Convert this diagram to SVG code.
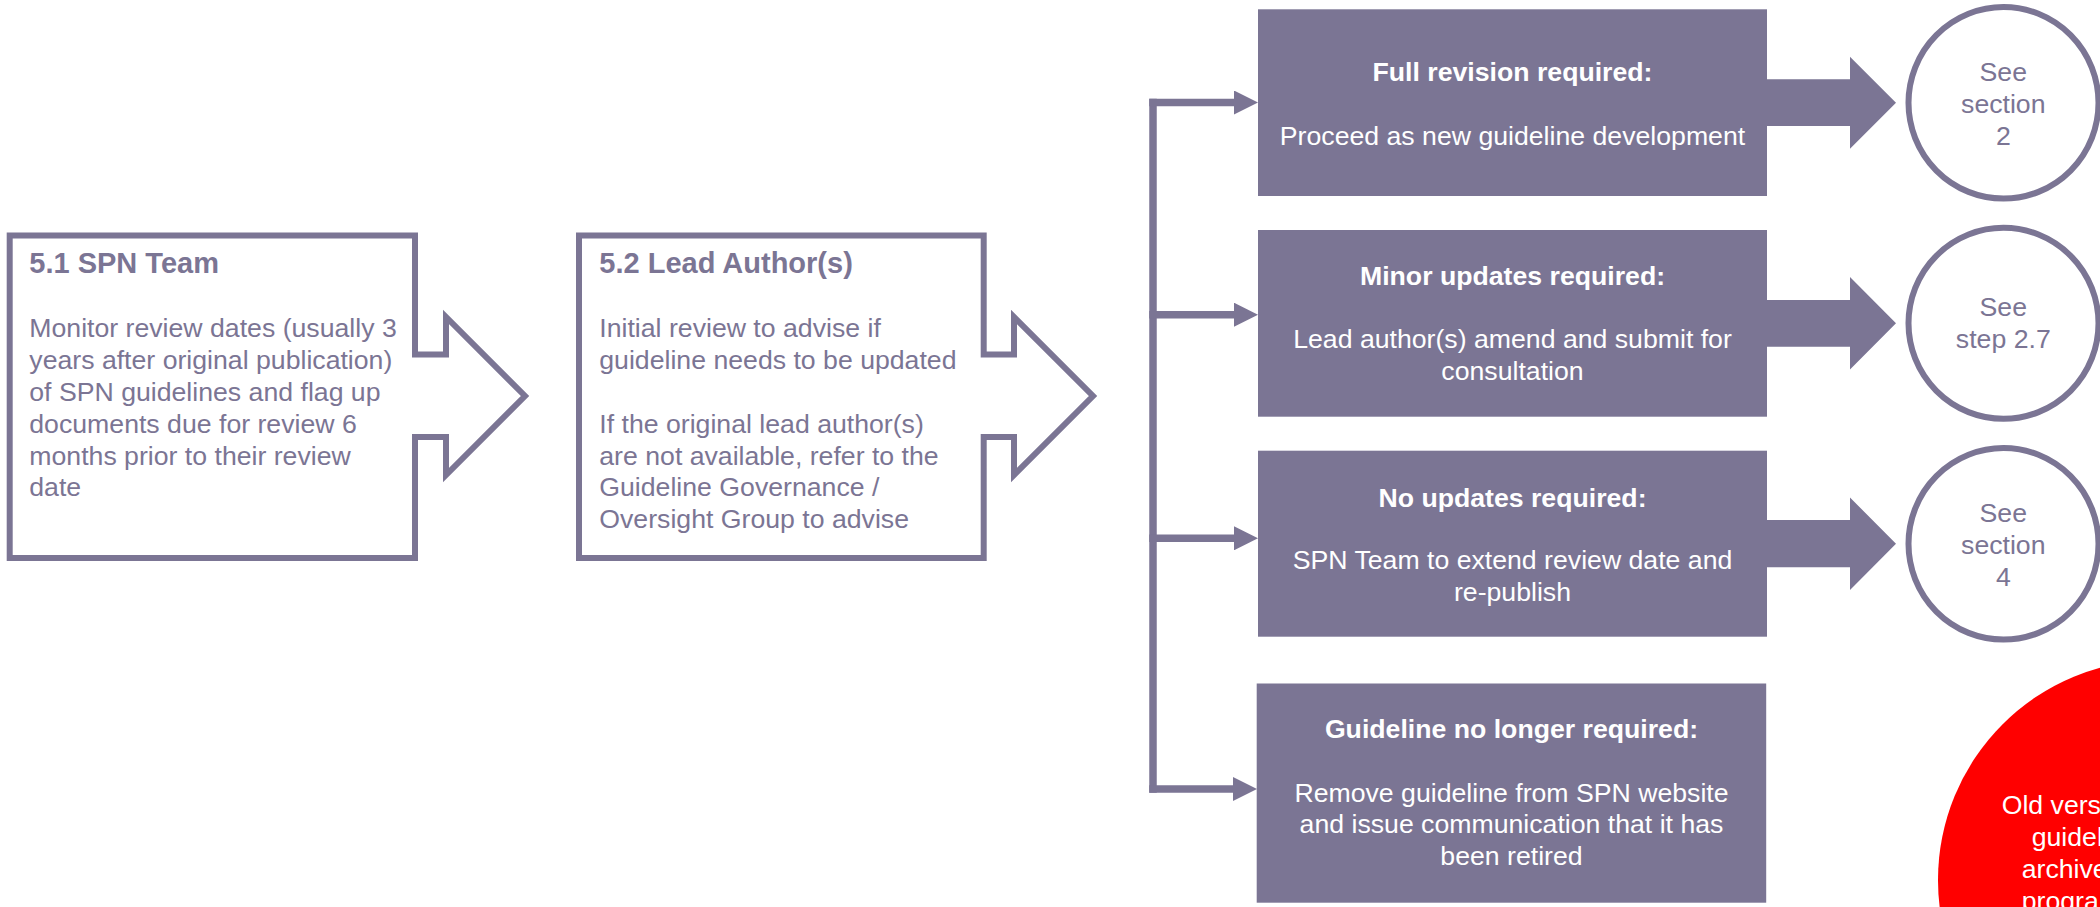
<svg xmlns="http://www.w3.org/2000/svg" width="2100" height="907" viewBox="0 0 2100 907">
<style>
  .outline { fill: #FFFFFF; stroke: #7B7594; stroke-width: 6; stroke-linejoin: miter; }
  .box { fill: #7B7594; }
  .fat { fill: #7B7594; }
  .ring { fill: #FFFFFF; stroke: #7B7594; stroke-width: 6; }
  .conn { fill: none; stroke: #7B7594; stroke-width: 7.5; }
  .ptitle { font-family: "Liberation Sans", Arial, sans-serif; font-weight: bold; font-size: 29px; fill: #7B7594; }
  .pbody { font-family: "Liberation Sans", Arial, sans-serif; font-size: 26.67px; fill: #7B7594; }
  .wtitle { font-family: "Liberation Sans", Arial, sans-serif; font-weight: bold; font-size: 26.67px; fill: #FFFFFF; text-anchor: middle; }
  .wbody { font-family: "Liberation Sans", Arial, sans-serif; font-size: 26.67px; fill: #FFFFFF; text-anchor: middle; }
  .ctext { font-family: "Liberation Sans", Arial, sans-serif; font-size: 26.67px; fill: #7B7594; text-anchor: middle; }
  .rtext { font-family: "Liberation Sans", Arial, sans-serif; font-size: 26.67px; fill: #FFFFFF; }
</style>
<defs>
  <marker id="head" markerUnits="userSpaceOnUse" markerWidth="24" markerHeight="24" viewBox="0 0 24 24" refX="6" refY="12" orient="auto">
    <path d="M0,0 L24,12 L0,24 Z" fill="#7B7594"/>
  </marker>
</defs>

<g id="node-spn-team">
  <path class="outline" d="M9.7,235.5 H415 V354.5 H446 V317 L525,396 L446,475 V437 H415 V558 H9.7 Z"/>
  <text class="ptitle" x="29.3" y="273">5.1 SPN Team</text>
  <text class="pbody" x="29.3" y="337">Monitor review dates (usually 3</text>
  <text class="pbody" x="29.3" y="369">years after original publication)</text>
  <text class="pbody" x="29.3" y="401">of SPN guidelines and flag up</text>
  <text class="pbody" x="29.3" y="433">documents due for review 6</text>
  <text class="pbody" x="29.3" y="464.5">months prior to their review</text>
  <text class="pbody" x="29.3" y="496">date</text>
</g>

<g id="node-lead-author">
  <path class="outline" d="M579,235.5 H983.7 V354.5 H1014 V317 L1093,396 L1014,475 V437 H983.7 V558 H579 Z"/>
  <text class="ptitle" x="599.3" y="273">5.2 Lead Author(s)</text>
  <text class="pbody" x="599.3" y="337">Initial review to advise if</text>
  <text class="pbody" x="599.3" y="369">guideline needs to be updated</text>
  <text class="pbody" x="599.3" y="433">If the original lead author(s)</text>
  <text class="pbody" x="599.3" y="464.5">are not available, refer to the</text>
  <text class="pbody" x="599.3" y="496">Guideline Governance /</text>
  <text class="pbody" x="599.3" y="527.5">Oversight Group to advise</text>
</g>

<g id="connectors">
  <line class="conn" x1="1153" y1="98.75" x2="1153" y2="792.75"/>
  <path class="conn" d="M1149.25,102.5 H1240" marker-end="url(#head)"/>
  <path class="conn" d="M1149.25,314.7 H1240" marker-end="url(#head)"/>
  <path class="conn" d="M1149.25,538.3 H1240" marker-end="url(#head)"/>
  <path class="conn" d="M1149.25,789 H1239" marker-end="url(#head)"/>
  <polygon class="fat" points="1766,79.3 1850,79.3 1850,56.7 1896,102.7 1850,148.7 1850,126 1766,126"/>
  <polygon class="fat" points="1766,300 1850,300 1850,277 1896,323.3 1850,369.6 1850,346.7 1766,346.7"/>
  <polygon class="fat" points="1766,520 1850,520 1850,497.5 1896,543.7 1850,590 1850,567.3 1766,567.3"/>
</g>

<g id="node-full-revision">
  <rect class="box" x="1258" y="9.3" width="509" height="186.7"/>
  <text class="wtitle" x="1512.5" y="81">Full revision required:</text>
  <text class="wbody" x="1512.5" y="145.3">Proceed as new guideline development</text>
</g>

<g id="node-minor-updates">
  <rect class="box" x="1258" y="230" width="509" height="186.7"/>
  <text class="wtitle" x="1512.5" y="285">Minor updates required:</text>
  <text class="wbody" x="1512.5" y="348.3">Lead author(s) amend and submit for</text>
  <text class="wbody" x="1512.5" y="380">consultation</text>
</g>

<g id="node-no-updates">
  <rect class="box" x="1258" y="450.7" width="509" height="186"/>
  <text class="wtitle" x="1512.5" y="506.7">No updates required:</text>
  <text class="wbody" x="1512.5" y="569.3">SPN Team to extend review date and</text>
  <text class="wbody" x="1512.5" y="601">re-publish</text>
</g>

<g id="node-no-longer">
  <rect class="box" x="1256.7" y="683.5" width="509.5" height="219.2"/>
  <text class="wtitle" x="1511.5" y="738.3">Guideline no longer required:</text>
  <text class="wbody" x="1511.5" y="801.7">Remove guideline from SPN website</text>
  <text class="wbody" x="1511.5" y="833.3">and issue communication that it has</text>
  <text class="wbody" x="1511.5" y="865">been retired</text>
</g>

<g id="node-see-section-2">
  <ellipse class="ring" cx="2003.5" cy="102.8" rx="95" ry="95.8"/>
  <text class="ctext" x="2003.3" y="80.7">See</text>
  <text class="ctext" x="2003.3" y="113.3">section</text>
  <text class="ctext" x="2003.3" y="145">2</text>
</g>

<g id="node-see-step-2-7">
  <ellipse class="ring" cx="2003.5" cy="323.3" rx="95" ry="95.5"/>
  <text class="ctext" x="2003.3" y="316">See</text>
  <text class="ctext" x="2003.3" y="348.3">step 2.7</text>
</g>

<g id="node-see-section-4">
  <ellipse class="ring" cx="2003.5" cy="543.8" rx="95" ry="95.8"/>
  <text class="ctext" x="2003.3" y="521.7">See</text>
  <text class="ctext" x="2003.3" y="554">section</text>
  <text class="ctext" x="2003.3" y="586">4</text>
</g>

<g id="node-old-version">
  <circle cx="2158" cy="880" r="220" fill="#FF0000"/>
  <text class="rtext" x="2001.7" y="814.3">Old vers</text>
  <text class="rtext" x="2031.7" y="846">guidel</text>
  <text class="rtext" x="2021.7" y="878">archive</text>
  <text class="rtext" x="2021.7" y="910">progra</text>
</g>
</svg>
